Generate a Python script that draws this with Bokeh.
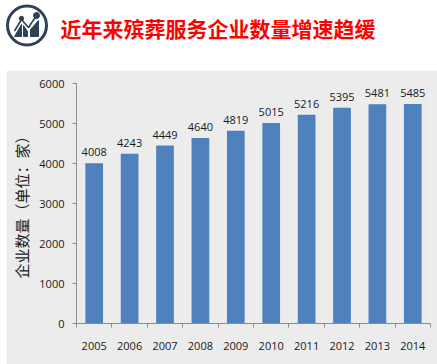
from bokeh.plotting import figure
from bokeh.layouts import column
from bokeh.models import Range1d, FixedTicker
from bokeh.core.properties import value
from bokeh.embed import file_html
from bokeh.resources import INLINE

years = [2005, 2006, 2007, 2008, 2009, 2010, 2011, 2012, 2013, 2014]
counts = [4008, 4243, 4449, 4640, 4819, 5015, 5216, 5395, 5481, 5485]
y_ticks = [0, 1000, 2000, 3000, 4000, 5000, 6000]
title_text = "近年来殡葬服务企业数量增速趋缓"
y_title = "企业数量（单位：家）"

NAVY = "#2f4157"
PANEL = "#ececec"
TXT = "#1a1a1a"
GREY = "#8c8c8c"

# header strip: ranges equal page pixels
h = figure(width=437, height=70, output_backend="svg", toolbar_location=None,
           x_range=Range1d(0, 437), y_range=Range1d(70, 0),
           x_axis_location=None, y_axis_location=None,
           min_border=0, outline_line_color=None, frame_align=False)
h.grid.visible = False
h.background_fill_color = "white"
h.border_fill_color = "white"

h.circle(x=[26.5], y=[25], radius=19.5, fill_color=None, line_color=NAVY, line_width=3)
h.patch([14, 21, 21], [36, 24, 36], color=NAVY)
h.patch([23, 23, 27, 27], [36, 25, 31, 36], color=NAVY)
h.patch([30, 30, 38, 38], [36, 29, 20, 36], color=NAVY)
h.line([14, 21, 28, 36], [30.5, 19, 27, 15], line_color=NAVY, line_width=1.6)
h.circle(x=[21], y=[18], radius=2.2, color=NAVY)
h.circle(x=[36], y=[15], radius=3, color=NAVY)
h.text(x=[60], y=[27], text=[title_text], text_font=value("Noto Sans CJK SC"),
       text_font_size="21px", text_font_style="bold", text_color="#ff0000",
       text_baseline="middle", text_align="left")

# chart panel
p = figure(width=431, height=294, output_backend="svg", toolbar_location=None,
           x_range=Range1d(years[0] - 0.5, years[-1] + 0.5), y_range=Range1d(0, 6000),
           min_border_left=70, min_border_right=7, min_border_top=13, min_border_bottom=41,
           margin=(0, 0, 0, 6), frame_align=False)
p.grid.visible = False
p.outline_line_color = None
p.background_fill_color = PANEL
p.border_fill_color = PANEL

p.vbar(x=years, top=counts, width=0.5, bottom=0, fill_color="#4f81bd", line_color=None)
p.text(x=years, y=counts, text=[str(c) for c in counts], text_align="center", text_baseline="bottom",
       y_offset=-7, text_font=value("Open Sans"), text_font_size="11px", text_color=TXT)

xa = p.xaxis[0]
xa.ticker = FixedTicker(ticks=years, minor_ticks=[y - 0.5 for y in years] + [years[-1] + 0.5])
xa.major_tick_out = 0
xa.major_tick_in = 0
xa.minor_tick_out = 4
xa.minor_tick_in = 0
xa.major_label_overrides = {y: str(y) for y in years}
xa.major_label_standoff = 14
xa.major_label_text_font = "Open Sans"
xa.major_label_text_font_size = "11px"
xa.major_label_text_color = TXT
xa.axis_line_color = GREY
xa.minor_tick_line_color = GREY

ya = p.yaxis[0]
ya.ticker = FixedTicker(ticks=y_ticks, minor_ticks=[])
ya.major_tick_out = 4
ya.major_tick_in = 0
ya.major_label_standoff = 8
ya.major_label_text_font = "Open Sans"
ya.major_label_text_font_size = "11px"
ya.major_label_text_color = TXT
ya.axis_line_color = GREY
ya.major_tick_line_color = GREY
ya.axis_label = y_title
ya.axis_label_text_font = "Noto Sans CJK SC"
ya.axis_label_text_font_size = "15px"
ya.axis_label_text_font_style = "normal"
ya.axis_label_text_color = TXT
ya.axis_label_standoff = 4

page = column(h, p, spacing=0)
open("out.html", "w").write(file_html(page, INLINE))
